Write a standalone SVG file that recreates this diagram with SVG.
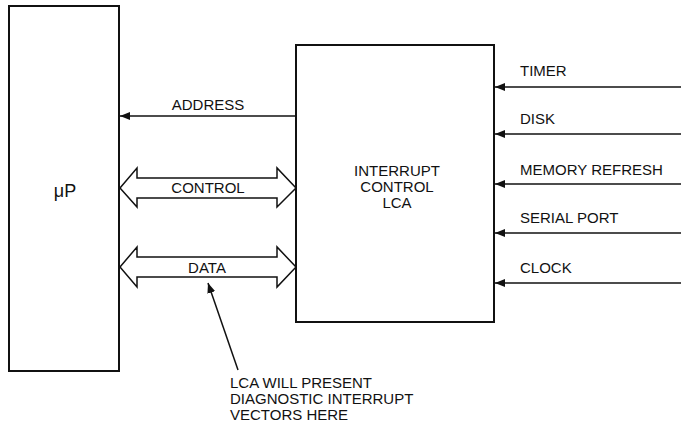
<svg xmlns="http://www.w3.org/2000/svg" width="681" height="424" viewBox="0 0 681 424">
<style>
.box{fill:none;stroke:#111;stroke-width:2}
.ln{stroke:#111;stroke-width:1.5;fill:none}
.bus{fill:#fff;stroke:#111;stroke-width:1.5;stroke-linejoin:miter}
text{font-family:"Liberation Sans",Arial,sans-serif;font-size:15px;fill:#111}
</style>
<defs>
<marker id="ah" viewBox="0 0 10 8" refX="10" refY="4" markerWidth="10" markerHeight="8" markerUnits="userSpaceOnUse" orient="auto">
<path d="M0,0 L10,4 L0,8 Z" fill="#111"/>
</marker>
</defs>
<rect width="681" height="424" fill="#fff"/>
<g id="up">
<rect class="box" x="9" y="6" width="110" height="365"/>
<text x="65" y="197" text-anchor="middle" style="font-size:18px">μP</text>
</g>
<g id="lca">
<rect class="box" x="296" y="45" width="198" height="277"/>
<text x="397" y="176" text-anchor="middle">INTERRUPT</text>
<text x="397" y="192" text-anchor="middle">CONTROL</text>
<text x="397" y="208" text-anchor="middle">LCA</text>
</g>
<g id="connectors">
<line class="ln" x1="296" y1="116" x2="120" y2="116" marker-end="url(#ah)"/>
<path class="bus" d="M120,188 L137,168 L137,178 L277,178 L277,168 L296,188 L277,207 L277,198 L137,198 L137,207 Z"/>
<path class="bus" d="M120,267 L137,247 L137,257 L277,257 L277,247 L296,267 L277,287 L277,277 L137,277 L137,287 Z"/>
<line class="ln" x1="681" y1="87" x2="495" y2="87" marker-end="url(#ah)"/>
<line class="ln" x1="681" y1="134" x2="495" y2="134" marker-end="url(#ah)"/>
<line class="ln" x1="681" y1="184" x2="495" y2="184" marker-end="url(#ah)"/>
<line class="ln" x1="681" y1="233" x2="495" y2="233" marker-end="url(#ah)"/>
<line class="ln" x1="681" y1="283" x2="495" y2="283" marker-end="url(#ah)"/>
<line class="ln" x1="238" y1="370" x2="208" y2="283" marker-end="url(#ah)"/>
</g>
<g id="labels">
<text x="208" y="110" text-anchor="middle">ADDRESS</text>
<text x="208" y="193" text-anchor="middle">CONTROL</text>
<text x="207" y="273" text-anchor="middle">DATA</text>
<text x="520" y="76">TIMER</text>
<text x="520" y="124">DISK</text>
<text x="520" y="175">MEMORY REFRESH</text>
<text x="520" y="223">SERIAL PORT</text>
<text x="520" y="273">CLOCK</text>
</g>
<g id="note">
<text x="230" y="388">LCA WILL PRESENT</text>
<text x="230" y="404">DIAGNOSTIC INTERRUPT</text>
<text x="230" y="420">VECTORS HERE</text>
</g>
</svg>
